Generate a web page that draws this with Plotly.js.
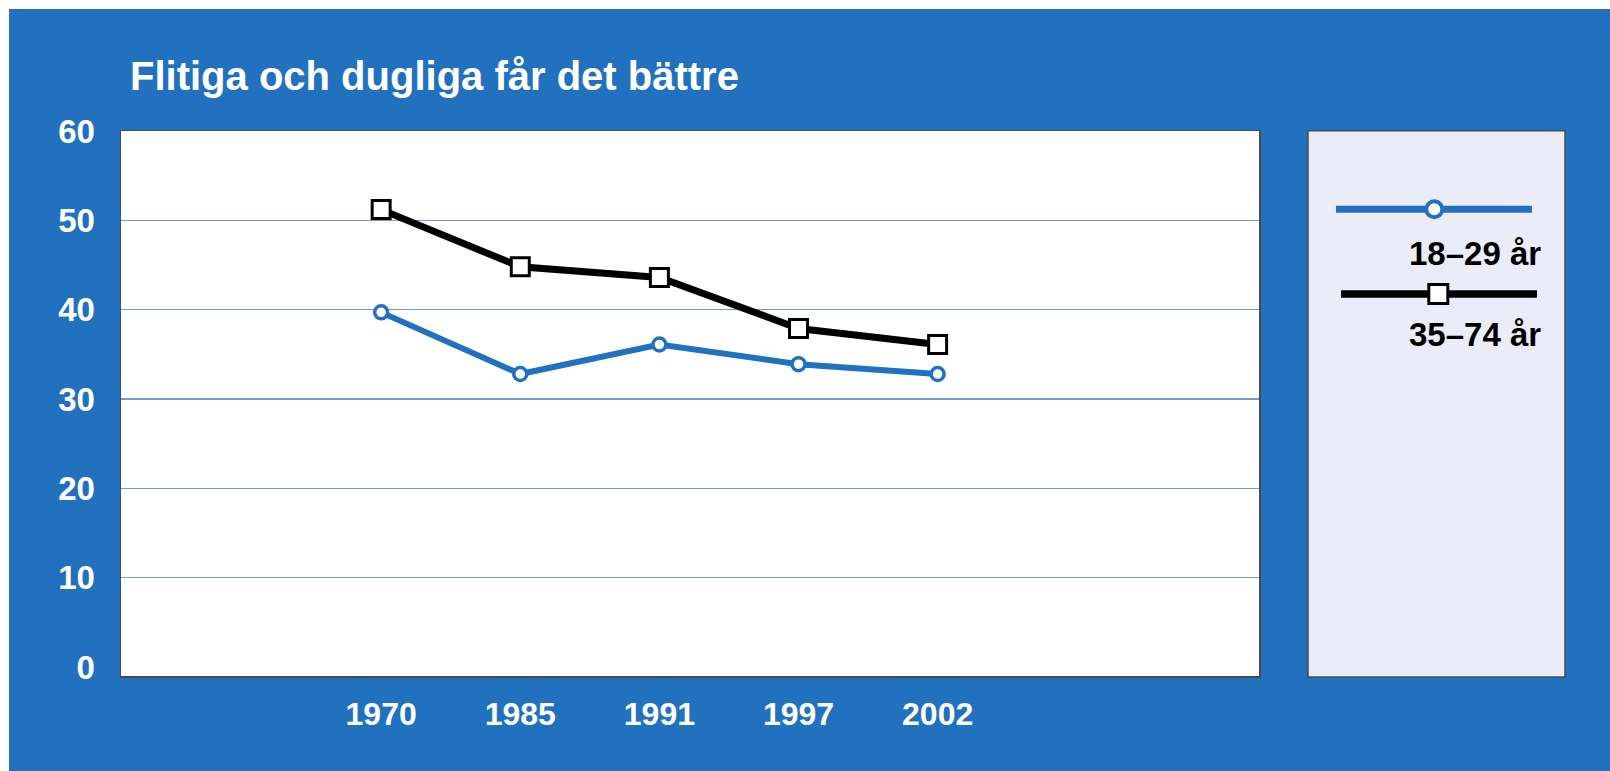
<!DOCTYPE html>
<html>
<head>
<meta charset="utf-8">
<script src="https://cdn.plot.ly/plotly-3.0.1.min.js"></script>
<style>
  html, body { margin: 0; padding: 0; background: #ffffff; width: 1610px; height: 771px; overflow: hidden; }
  #chart { position: absolute; left: 9px; top: 9px; width: 1601px; height: 762px; }
</style>
</head>
<body>
<div id="chart"></div>
<script>
// ---- data ----
const years = ['1970', '1985', '1991', '1997', '2002'];
const young = [39.7, 32.8, 36.1, 33.9, 32.8];   // 18–29 år
const older = [51.2, 44.8, 43.6, 37.9, 36.1];   // 35–74 år
const seriesNames = ['18–29 år', '35–74 år'];
const yTickVals = [0, 10, 20, 30, 40, 50, 60];
const gridVals = [10, 20, 30, 40, 50];
const titleText = 'Flitiga och dugliga får det bättre';

// ---- styles ----
const BG = '#2271bf';
const BLUE = '#2271c0';
const BORDER = '#4a4a4a';
const GRID = '#6d9cd8';
const YRANGE = [-1, 60];

// page geometry (div offset 9,9; size 1601x762)
const W = 1601, H = 762;
const M = { l: 112, r: 351, t: 122, b: 95 };
const PW = W - M.l - M.r, PH = H - M.t - M.b;
// convert page pixels to paper coords
const px = x => (x - 9 - M.l) / PW;
const py = y => 1 - (y - 9 - M.t) / PH;

const traces = [
  {
    x: years, y: older, name: seriesNames[1], type: 'scatter', mode: 'lines+markers',
    xaxis: 'x', yaxis: 'y',
    line: { color: '#000000', width: 7 },
    marker: { symbol: 'square', size: 18, color: '#ffffff', line: { color: '#000000', width: 3 } },
    cliponaxis: false, showlegend: false
  },
  {
    x: years, y: young, name: seriesNames[0], type: 'scatter', mode: 'lines+markers',
    xaxis: 'x', yaxis: 'y2',
    line: { color: BLUE, width: 6 },
    marker: { symbol: 'circle', size: 13, color: '#ffffff', line: { color: BLUE, width: 3.5 } },
    cliponaxis: false, showlegend: false
  }
];

// custom legend (box, sample lines, markers)
const shapes = [
  { type: 'rect', xref: 'paper', yref: 'paper', x0: px(1308), x1: px(1565), y0: py(677), y1: py(130.7),
    fillcolor: '#eaecf8', line: { color: BORDER, width: 1.5 }, layer: 'below' },
  { type: 'line', xref: 'paper', yref: 'paper', x0: px(1336), x1: px(1532), y0: py(209.3), y1: py(209.3),
    line: { color: BLUE, width: 7 } },
  { type: 'circle', xref: 'paper', yref: 'paper', x0: px(1434.3 - 8), x1: px(1434.3 + 8), y0: py(209.3 + 8), y1: py(209.3 - 8),
    fillcolor: '#ffffff', line: { color: BLUE, width: 4 } },
  { type: 'line', xref: 'paper', yref: 'paper', x0: px(1341), x1: px(1537), y0: py(294), y1: py(294),
    line: { color: '#000000', width: 7.5 } },
  { type: 'rect', xref: 'paper', yref: 'paper', x0: px(1438.3 - 9.5), x1: px(1438.3 + 9.5), y0: py(294 + 9.5), y1: py(294 - 9.5),
    fillcolor: '#ffffff', line: { color: '#000000', width: 3 } }
];

const legendFont = { family: 'Liberation Sans, Arial, sans-serif', size: 33, color: '#000000' };
const annotations = [
  { text: '<b>' + seriesNames[0] + '</b>', xref: 'paper', yref: 'paper', x: px(1543), y: py(253),
    xanchor: 'right', yanchor: 'middle', showarrow: false, font: legendFont },
  { text: '<b>' + seriesNames[1] + '</b>', xref: 'paper', yref: 'paper', x: px(1543), y: py(334),
    xanchor: 'right', yanchor: 'middle', showarrow: false, font: legendFont }
];

const layout = {
  width: W, height: H,
  paper_bgcolor: BG, plot_bgcolor: '#ffffff',
  margin: M,
  showlegend: false,
  title: {
    text: '<b>' + titleText + '</b>',
    xref: 'container', yref: 'container', x: 121 / W, xanchor: 'left',
    y: 1 - 67 / H, yanchor: 'middle',
    font: { family: 'Liberation Sans, Arial, sans-serif', size: 40, color: '#ffffff' }
  },
  xaxis: {
    type: 'category', range: [-1.87, 6.31],
    showgrid: false, zeroline: false,
    showline: true, mirror: true, linecolor: BORDER, linewidth: 1.5,
    ticks: '', ticklabelstandoff: 9,
    tickfont: { family: 'Liberation Sans, Arial, sans-serif', size: 32, color: '#ffffff', weight: 'bold' }
  },
  yaxis: {
    range: YRANGE, tickvals: yTickVals, ticktext: yTickVals.map(String),
    showgrid: false, zeroline: false,
    showline: true, mirror: true, linecolor: BORDER, linewidth: 1.5,
    ticks: '', ticklabelstandoff: 18,
    tickfont: { family: 'Liberation Sans, Arial, sans-serif', size: 33, color: '#ffffff', weight: 'bold' }
  },
  yaxis2: {
    overlaying: 'y', matches: 'y', range: YRANGE, tickvals: gridVals,
    showgrid: true, gridcolor: GRID, gridwidth: 1.5,
    showticklabels: false, ticks: '', zeroline: false, showline: false
  },
  shapes: shapes,
  annotations: annotations
};

Plotly.newPlot('chart', traces, layout, { displayModeBar: false, staticPlot: true });
</script>
</body>
</html>
